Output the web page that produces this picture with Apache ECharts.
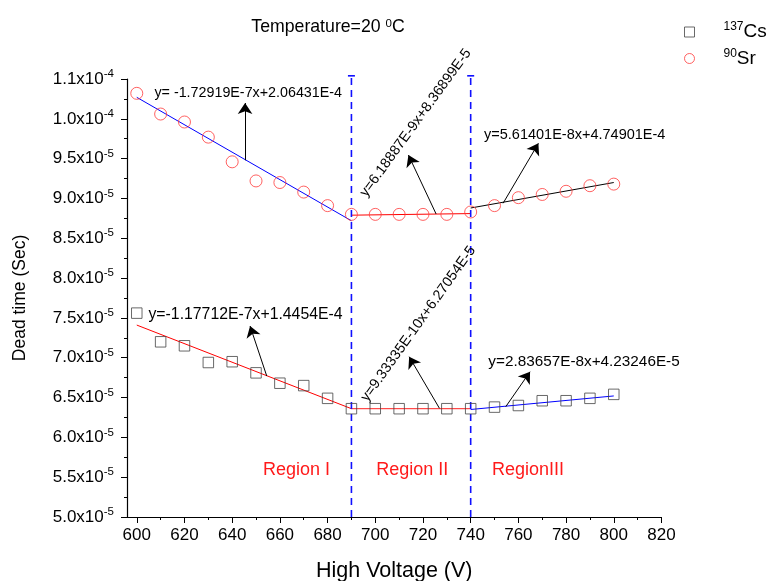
<!DOCTYPE html>
<html><head><meta charset="utf-8">
<script src="https://cdn.jsdelivr.net/npm/echarts@6/dist/echarts.min.js"></script>
<style>html,body{margin:0;padding:0;background:#fff}#c{width:769px;height:581px}</style>
</head><body><div id="c"></div>
<script>
// ---- data ----
const voltages = [600,610,620,630,640,650,660,670,680,690,700,710,720,730,740,750,760,770,780,790,800];
const cs137 = [7.56e-5,7.20e-5,7.15e-5,6.94e-5,6.95e-5,6.81e-5,6.68e-5,6.65e-5,6.49e-5,6.36e-5,6.36e-5,6.36e-5,6.36e-5,6.36e-5,6.36e-5,6.38e-5,6.40e-5,6.46e-5,6.46e-5,6.49e-5,6.54e-5];
const sr90 = [1.032e-4,1.006e-4,9.96e-5,9.77e-5,9.46e-5,9.22e-5,9.20e-5,9.08e-5,8.91e-5,8.80e-5,8.80e-5,8.80e-5,8.80e-5,8.80e-5,8.83e-5,8.91e-5,9.01e-5,9.05e-5,9.09e-5,9.16e-5,9.18e-5];
// fitted segments [x, y]
const srFitI   = [[600,1.027e-4],[690,8.72e-5]];
const srFitII  = [[690,8.79e-5],[740,8.81e-5]];
const srFitIII = [[740,8.88e-5],[800,9.20e-5]];
const csFitI   = [[600,7.41e-5],[690,6.36e-5]];
const csFitII  = [[690,6.36e-5],[740,6.36e-5]];
const csFitIII = [[740,6.35e-5],[800,6.52e-5]];
// axis ticks
const xMajorTicks = [600,620,640,660,680,700,720,740,760,780,800,820];
const xMinorTicks = [610,630,650,670,690,710,730,750,770,790,810];
const yMajorTicks = [5.0e-5,5.5e-5,6.0e-5,6.5e-5,7.0e-5,7.5e-5,8.0e-5,8.5e-5,9.0e-5,9.5e-5,1.0e-4,1.05e-4];
const yMinorTicks = [5.25e-5,5.75e-5,6.25e-5,6.75e-5,7.25e-5,7.75e-5,8.25e-5,8.75e-5,9.25e-5,9.75e-5,1.025e-4];
const yTickMantissa = ['5.0','5.5','6.0','6.5','7.0','7.5','8.0','8.5','9.0','9.5','1.0','1.1'];
const yTickExponent = ['-5','-5','-5','-5','-5','-5','-5','-5','-5','-5','-4','-4'];
const regionBounds = [690, 740];
const regionNames = ['Region I','Region II','RegionIII'];
const regionLabelX = [667, 715.5, 764];
const regionLabelY = 5.59e-5;
const fitTexts = [
  'y= -1.72919E-7x+2.06431E-4',
  'y=6.18887E-9x+8.36899E-5',
  'y=5.61401E-8x+4.74901E-4',
  'y=-1.17712E-7x+1.4454E-4',
  'y=9.33335E-10x+6.27054E-5',
  'y=2.83657E-8x+4.23246E-5'
];
// annotation anchors in data units: text start, arrow from, arrow to
const fitTextAt   = [[607.4,1.032e-4],[694.9,9.04e-5],[745.6,9.80e-5],[604.9,7.536e-5],[695.3,6.47e-5],[747.4,6.95e-5]];
const arrowFrom   = [[645.4,9.48e-5],[725.5,8.805e-5],[753.6,8.94e-5],[654.5,6.77e-5],[726.9,6.365e-5],[754.7,6.385e-5]];
const arrowTo     = [[645.4,1.0198e-4],[713.9,9.545e-5],[768.4,9.692e-5],[647.5,7.398e-5],[714.2,7.013e-5],[764.9,6.824e-5]];

// ---- styles ----
const FONT = '"Liberation Sans", Arial, sans-serif';
const fitTextRot = [0,54,0,0,54.5,0];
const fitTextSize = [14.3,14.3,14.5,15.8,14.3,15.3];
const X_MIN = 595.9, X_MAX = 820, Y_MIN = 5.0e-5, Y_MAX = 1.05e-4;

function yLabel(v){
  let i = 0, best = Infinity;
  yMajorTicks.forEach((t,k)=>{ const d=Math.abs(t-v); if(d<best){best=d;i=k;} });
  return '{m|' + yTickMantissa[i] + 'x10}{e|' + yTickExponent[i] + '}';
}

const lineSeries = (name, data, color) => ({
  name, type:'line', data, symbol:'none', showSymbol:false, silent:true,
  lineStyle:{color, width:1}, z:3, animation:false
});

const dashSeries = (x) => ({
  type:'line', silent:true, clip:false, animation:false, z:4,
  data:[{value:[x,Y_MIN], symbol:'none'},{value:[x,1.054e-4], symbol:'rect', symbolSize:[7,1.6]}],
  showSymbol:true, showAllSymbol:true,
  itemStyle:{color:'#1010ff'},
  lineStyle:{color:'#1010ff', width:1.6, type:[7,5]}
});

const option = {
  backgroundColor:'#fff',
  animation:false,
  grid:{left:127, top:79, width:(X_MAX-X_MIN)*2.385, height:438, containLabel:false, outerBoundsMode:'none'},
  legend:{
    orient:'vertical', left:679, top:16, itemWidth:10, itemHeight:10, itemGap:6,
    data:[
      {name:'137Cs', icon:'rect', itemStyle:{color:'rgba(0,0,0,0)', borderColor:'#444', borderWidth:1}},
      {name:'90Sr', icon:'circle', itemStyle:{color:'rgba(0,0,0,0)', borderColor:'#ff3b3b', borderWidth:1}}
    ],
    formatter:(n)=> n==='137Cs' ? '{g|}{s|137}{b|Cs}' : '{g|}{s|90}{b|Sr}',
    textStyle:{rich:{
      g:{width:24},
      s:{fontSize:12, fontFamily:FONT, color:'#000', verticalAlign:'top', lineHeight:11},
      b:{fontSize:19, fontFamily:FONT, color:'#000', lineHeight:22}
    }}
  },
  xAxis:[{
    type:'value', min:X_MIN, max:X_MAX, position:'bottom',
    name:'High Voltage (V)', nameLocation:'middle', nameGap:43,
    nameTextStyle:{fontSize:21.5, fontFamily:FONT, color:'#000'},
    axisLine:{show:true, onZero:false, lineStyle:{color:'#000', width:1.2}},
    axisTick:{show:true, length:6, customValues:xMajorTicks, lineStyle:{color:'#000'}},
    axisLabel:{customValues:xMajorTicks, fontSize:17, fontFamily:FONT, color:'#000', margin:10},
    splitLine:{show:false}
  },{
    type:'value', min:X_MIN, max:X_MAX, position:'bottom',
    axisLine:{show:false}, axisLabel:{show:false}, splitLine:{show:false},
    axisTick:{show:true, length:3, customValues:xMinorTicks, lineStyle:{color:'#000'}}
  }],
  yAxis:[{
    type:'value', min:Y_MIN, max:Y_MAX, position:'left',
    name:'Dead time (Sec)', nameLocation:'middle', nameGap:98,
    nameTextStyle:{fontSize:17.5, fontFamily:FONT, color:'#000'},
    axisLine:{show:true, onZero:false, lineStyle:{color:'#000', width:1.2}},
    axisTick:{show:true, length:6, customValues:yMajorTicks, lineStyle:{color:'#000'}},
    axisLabel:{customValues:yMajorTicks, formatter:yLabel, margin:13,
      rich:{
        m:{fontSize:17, fontFamily:FONT, color:'#000', lineHeight:22},
        e:{fontSize:11.5, fontFamily:FONT, color:'#000', lineHeight:10, verticalAlign:'top'}
      }},
    splitLine:{show:false}
  },{
    type:'value', min:Y_MIN, max:Y_MAX, position:'left',
    axisLine:{show:false}, axisLabel:{show:false}, splitLine:{show:false},
    axisTick:{show:true, length:3, customValues:yMinorTicks, lineStyle:{color:'#000'}}
  }],
  series:[
    {name:'137Cs', type:'scatter', data:voltages.map((v,i)=>[v,cs137[i]]), symbol:'rect', symbolSize:10.5,
      itemStyle:{color:'rgba(0,0,0,0)', borderColor:'#444', borderWidth:1}, z:5},
    {name:'90Sr', type:'scatter', data:voltages.map((v,i)=>[v,sr90[i]]), symbol:'circle', symbolSize:12,
      itemStyle:{color:'rgba(0,0,0,0)', borderColor:'#ff3b3b', borderWidth:1}, z:5},
    lineSeries('srI', srFitI, '#0000ff'),
    lineSeries('srII', srFitII, '#ff0000'),
    lineSeries('srIII', srFitIII, '#000000'),
    lineSeries('csI', csFitI, '#ff0000'),
    lineSeries('csII', csFitII, '#ff2020'),
    lineSeries('csIII', csFitIII, '#0000ff'),
    dashSeries(regionBounds[0]),
    dashSeries(regionBounds[1]),
    {type:'line', data:[], silent:true, animation:false, z:6,
      markLine:{silent:true, symbol:['none','arrow'], symbolSize:11, animation:false,
        label:{show:false}, itemStyle:{color:'#000'}, lineStyle:{color:'#000', width:1, type:'solid'},
        data: arrowFrom.map((f,i)=>[{coord:f},{coord:arrowTo[i]}])}}
  ]
};

const chart = echarts.init(document.getElementById('c'));
chart.setOption(option);
const px = (p) => chart.convertToPixel({xAxisIndex:0, yAxisIndex:0}, p);
const graphics = [];
fitTexts.forEach((t,i)=>{
  const p = px(fitTextAt[i]);
  graphics.push({type:'text', x:p[0], y:p[1], rotation:fitTextRot[i]*Math.PI/180, z:20,
    style:{text:t, fill:'#000', fontSize:fitTextSize[i], fontFamily:FONT, align:'left', verticalAlign:'middle'}});
});
regionNames.forEach((t,i)=>{
  const p = px([regionLabelX[i], regionLabelY]);
  graphics.push({type:'text', x:p[0], y:p[1], z:20,
    style:{text:t, fill:'#ff1a1a', fontSize:18, fontFamily:FONT, align:'center', verticalAlign:'middle'}});
});
graphics.push({type:'text', x:328, y:27, z:20,
  style:{text:'Temperature=20 {s|0}C', fill:'#000', fontSize:17.7, fontFamily:FONT, align:'center', verticalAlign:'middle',
    rich:{s:{fontSize:11.5, fontFamily:FONT, fill:'#000', verticalAlign:'top', lineHeight:10}}}});
chart.setOption({graphic:graphics});
</script>
</body></html>
